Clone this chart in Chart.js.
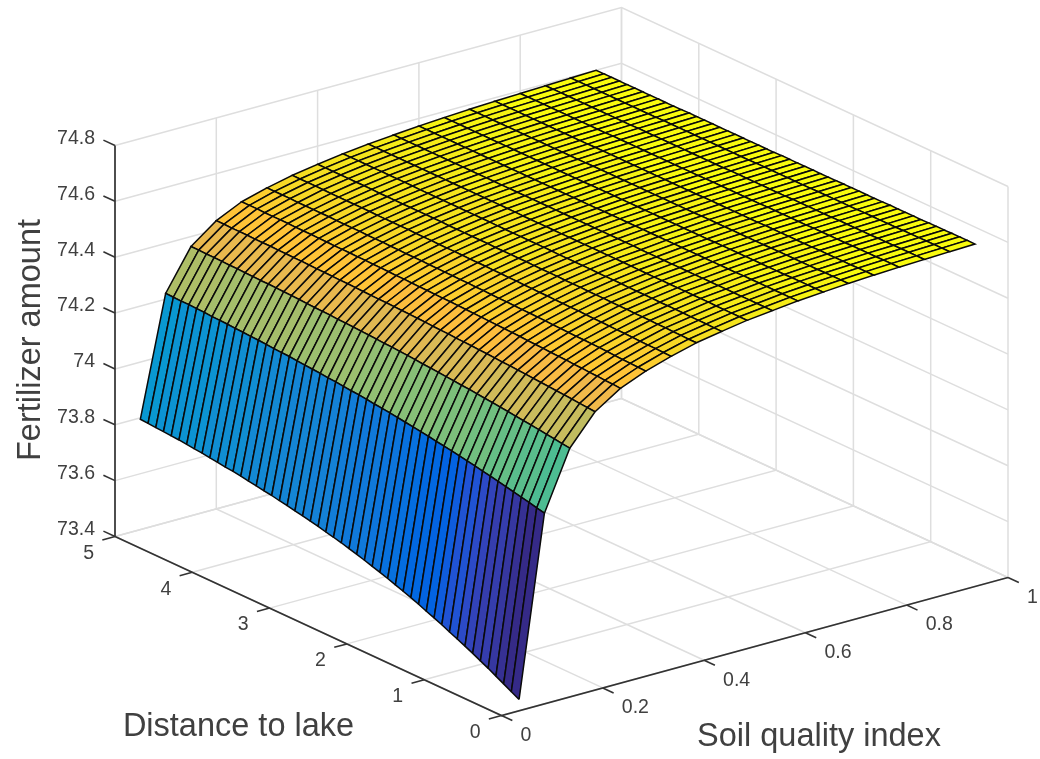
<!DOCTYPE html>
<html>
<head>
<meta charset="utf-8">
<style>
  html, body { margin: 0; padding: 0; background: #fff; }
  canvas { display: block; }
</style>
<script src="https://cdn.jsdelivr.net/npm/chart.js@4"></script>
</head>
<body>
<canvas id="surf" width="1040" height="759"></canvas>
<script>
const soilValues = [0.05,0.1,0.15,0.2,0.25,0.3,0.35,0.4,0.45,0.5,0.55,0.6,0.65,0.7,0.75,0.8,0.85,0.9,0.95];
const distValues = [0.1,0.2,0.3,0.4,0.5,0.6,0.7,0.8,0.9,1,1.1,1.2,1.3,1.4,1.5,1.6,1.7,1.8,1.9,2,2.1,2.2,2.3,2.4,2.5,2.6,2.7,2.8,2.9,3,3.1,3.2,3.3,3.4,3.5,3.6,3.7,3.8,3.9,4,4.1,4.2,4.3,4.4,4.5,4.6,4.7,4.8,4.9,5];

// one row per soil value
const fert005 = [73.420,73.435,73.450,73.465,73.480,73.494,73.508,73.521,73.534,73.546,73.559,73.571,73.582,73.594,73.605,73.615,73.625,73.635,73.644,73.653,73.662,73.670,73.678,73.686,73.693,73.699,73.706,73.712,73.718,73.723,73.729,73.734,73.740,73.744,73.749,73.753,73.758,73.762,73.765,73.769,73.772,73.776,73.779,73.782,73.785,73.787,73.789,73.791,73.793,73.795];
const fert010 = [74.062,74.068,74.075,74.081,74.087,74.093,74.099,74.105,74.110,74.116,74.121,74.126,74.131,74.136,74.140,74.145,74.149,74.153,74.157,74.161,74.165,74.168,74.171,74.175,74.178,74.180,74.183,74.186,74.188,74.191,74.193,74.195,74.197,74.200,74.201,74.203,74.205,74.207,74.208,74.210,74.211,74.213,74.214,74.215,74.217,74.218,74.219,74.219,74.220,74.221];
const fert015 = [74.270,74.274,74.278,74.281,74.285,74.289,74.292,74.295,74.299,74.302,74.305,74.308,74.311,74.314,74.316,74.319,74.321,74.324,74.326,74.328,74.331,74.333,74.335,74.337,74.338,74.340,74.342,74.343,74.345,74.346,74.347,74.349,74.350,74.351,74.352,74.354,74.355,74.356,74.357,74.358,74.358,74.359,74.360,74.361,74.361,74.362,74.363,74.363,74.364,74.364];
const fert020 = [74.376,74.378,74.380,74.383,74.385,74.387,74.389,74.391,74.393,74.395,74.397,74.399,74.400,74.402,74.404,74.405,74.407,74.408,74.409,74.411,74.412,74.413,74.415,74.416,74.417,74.418,74.419,74.420,74.420,74.421,74.422,74.423,74.424,74.424,74.425,74.426,74.426,74.427,74.428,74.428,74.429,74.429,74.430,74.430,74.430,74.431,74.431,74.431,74.432,74.432];
const fert025 = [74.435,74.437,74.438,74.440,74.441,74.443,74.444,74.446,74.447,74.448,74.450,74.451,74.452,74.454,74.455,74.456,74.457,74.458,74.459,74.460,74.461,74.462,74.463,74.463,74.464,74.465,74.465,74.466,74.467,74.467,74.468,74.469,74.469,74.470,74.470,74.471,74.471,74.471,74.472,74.472,74.473,74.473,74.473,74.474,74.474,74.474,74.474,74.475,74.475,74.475];
const fert030 = [74.472,74.473,74.474,74.475,74.476,74.478,74.479,74.480,74.481,74.481,74.482,74.483,74.484,74.485,74.486,74.487,74.487,74.488,74.489,74.489,74.490,74.491,74.491,74.492,74.492,74.493,74.493,74.494,74.494,74.495,74.495,74.495,74.496,74.496,74.497,74.497,74.497,74.498,74.498,74.498,74.498,74.499,74.499,74.499,74.499,74.499,74.500,74.500,74.500,74.500];
const fert035 = [74.500,74.501,74.502,74.502,74.503,74.504,74.505,74.505,74.506,74.507,74.507,74.508,74.509,74.509,74.510,74.510,74.511,74.511,74.512,74.512,74.513,74.513,74.514,74.514,74.515,74.515,74.515,74.516,74.516,74.516,74.516,74.517,74.517,74.517,74.518,74.518,74.518,74.518,74.518,74.519,74.519,74.519,74.519,74.519,74.519,74.520,74.520,74.520,74.520,74.520];
const fert040 = [74.524,74.524,74.525,74.525,74.526,74.526,74.527,74.527,74.527,74.528,74.528,74.528,74.529,74.529,74.529,74.530,74.530,74.530,74.531,74.531,74.531,74.531,74.532,74.532,74.532,74.532,74.532,74.533,74.533,74.533,74.533,74.533,74.533,74.534,74.534,74.534,74.534,74.534,74.534,74.534,74.534,74.534,74.535,74.535,74.535,74.535,74.535,74.535,74.535,74.535];
const fert045 = [74.540,74.540,74.541,74.541,74.541,74.542,74.542,74.542,74.542,74.543,74.543,74.543,74.543,74.544,74.544,74.544,74.544,74.545,74.545,74.545,74.545,74.545,74.546,74.546,74.546,74.546,74.546,74.546,74.546,74.546,74.547,74.547,74.547,74.547,74.547,74.547,74.547,74.547,74.547,74.547,74.548,74.548,74.548,74.548,74.548,74.548,74.548,74.548,74.548,74.548];
const fert050 = [74.555,74.555,74.555,74.555,74.555,74.556,74.556,74.556,74.556,74.556,74.556,74.556,74.556,74.556,74.556,74.557,74.557,74.557,74.557,74.557,74.557,74.557,74.557,74.557,74.557,74.557,74.557,74.557,74.557,74.557,74.558,74.558,74.558,74.558,74.558,74.558,74.558,74.558,74.558,74.558,74.558,74.558,74.558,74.558,74.558,74.558,74.558,74.558,74.558,74.558];
const fert055 = [74.565,74.565,74.565,74.565,74.565,74.565,74.565,74.565,74.565,74.565,74.565,74.565,74.565,74.565,74.565,74.565,74.565,74.565,74.566,74.566,74.566,74.566,74.566,74.566,74.566,74.566,74.566,74.566,74.566,74.566,74.566,74.566,74.566,74.566,74.566,74.566,74.566,74.566,74.566,74.566,74.566,74.566,74.566,74.566,74.566,74.566,74.566,74.566,74.566,74.566];
const fert060 = [74.575,74.575,74.575,74.575,74.575,74.575,74.575,74.575,74.574,74.574,74.574,74.574,74.574,74.574,74.574,74.574,74.574,74.574,74.574,74.574,74.574,74.574,74.574,74.574,74.574,74.574,74.573,74.573,74.573,74.573,74.573,74.573,74.573,74.573,74.573,74.573,74.573,74.573,74.573,74.573,74.573,74.573,74.573,74.573,74.573,74.573,74.573,74.573,74.573,74.573];
const fert065 = [74.582,74.582,74.582,74.582,74.582,74.581,74.581,74.581,74.581,74.581,74.581,74.581,74.581,74.581,74.581,74.580,74.580,74.580,74.580,74.580,74.580,74.580,74.580,74.580,74.580,74.580,74.580,74.580,74.580,74.580,74.580,74.579,74.579,74.579,74.579,74.579,74.579,74.579,74.579,74.579,74.579,74.579,74.579,74.579,74.579,74.579,74.579,74.579,74.579,74.579];
const fert070 = [74.588,74.588,74.588,74.588,74.587,74.587,74.587,74.587,74.587,74.587,74.587,74.586,74.586,74.586,74.586,74.586,74.586,74.586,74.586,74.586,74.585,74.585,74.585,74.585,74.585,74.585,74.585,74.585,74.585,74.585,74.585,74.585,74.585,74.585,74.584,74.584,74.584,74.584,74.584,74.584,74.584,74.584,74.584,74.584,74.584,74.584,74.584,74.584,74.584,74.584];
const fert075 = [74.593,74.593,74.593,74.592,74.592,74.592,74.592,74.592,74.591,74.591,74.591,74.591,74.591,74.591,74.591,74.590,74.590,74.590,74.590,74.590,74.590,74.590,74.590,74.589,74.589,74.589,74.589,74.589,74.589,74.589,74.589,74.589,74.589,74.589,74.589,74.589,74.589,74.588,74.588,74.588,74.588,74.588,74.588,74.588,74.588,74.588,74.588,74.588,74.588,74.588];
const fert080 = [74.597,74.597,74.597,74.596,74.596,74.596,74.596,74.595,74.595,74.595,74.595,74.595,74.594,74.594,74.594,74.594,74.594,74.594,74.593,74.593,74.593,74.593,74.593,74.593,74.593,74.593,74.592,74.592,74.592,74.592,74.592,74.592,74.592,74.592,74.592,74.592,74.592,74.592,74.591,74.591,74.591,74.591,74.591,74.591,74.591,74.591,74.591,74.591,74.591,74.591];
const fert085 = [74.600,74.600,74.600,74.600,74.599,74.599,74.599,74.598,74.598,74.598,74.598,74.598,74.597,74.597,74.597,74.597,74.597,74.597,74.596,74.596,74.596,74.596,74.596,74.596,74.596,74.596,74.595,74.595,74.595,74.595,74.595,74.595,74.595,74.595,74.595,74.595,74.595,74.595,74.594,74.594,74.594,74.594,74.594,74.594,74.594,74.594,74.594,74.594,74.594,74.594];
const fert090 = [74.603,74.603,74.603,74.603,74.602,74.602,74.602,74.601,74.601,74.601,74.601,74.601,74.600,74.600,74.600,74.600,74.600,74.600,74.599,74.599,74.599,74.599,74.599,74.599,74.599,74.599,74.598,74.598,74.598,74.598,74.598,74.598,74.598,74.598,74.598,74.598,74.598,74.598,74.597,74.597,74.597,74.597,74.597,74.597,74.597,74.597,74.597,74.597,74.597,74.597];
const fert095 = [74.606,74.606,74.606,74.606,74.605,74.605,74.605,74.604,74.604,74.604,74.604,74.604,74.603,74.603,74.603,74.603,74.603,74.603,74.602,74.602,74.602,74.602,74.602,74.602,74.602,74.602,74.601,74.601,74.601,74.601,74.601,74.601,74.601,74.601,74.601,74.601,74.601,74.601,74.600,74.600,74.600,74.600,74.600,74.600,74.600,74.600,74.600,74.600,74.600,74.600];
const fertilizer = [fert005,fert010,fert015,fert020,fert025,fert030,fert035,fert040,fert045,fert050,fert055,fert060,fert065,fert070,fert075,fert080,fert085,fert090,fert095];

const soilTicks = [0,0.2,0.4,0.6,0.8,1];
const soilTickLabels = ['0','0.2','0.4','0.6','0.8','1'];
const distTicks = [0,1,2,3,4,5];
const distTickLabels = ['0','1','2','3','4','5'];
const fertTicks = [73.4,73.6,73.8,74,74.2,74.4,74.6,74.8];
const fertTickLabels = ['73.4','73.6','73.8','74','74.2','74.4','74.6','74.8'];

// parula, 64 steps
const parula = [[.2081,.1663,.5292],[.2116,.1898,.5777],[.2123,.2138,.627],[.2081,.2386,.6771],[.1959,.2645,.7279],[.1707,.2919,.7792],[.1253,.3242,.8303],[.0591,.3598,.8683],[.0117,.3875,.882],[.006,.4086,.8828],[.0165,.4266,.8786],[.0329,.443,.872],[.0498,.4586,.8641],[.0629,.4737,.8554],[.0723,.4887,.8467],[.0779,.504,.8384],[.0793,.52,.8312],[.0749,.5375,.8263],[.0641,.557,.824],[.0488,.5772,.8228],[.0343,.5966,.8199],[.0265,.6137,.8135],[.0239,.6287,.8038],[.0231,.6418,.7913],[.0228,.6535,.7768],[.0267,.6642,.7607],[.0384,.6743,.7436],[.059,.6838,.7254],[.0843,.6928,.7062],[.1133,.7015,.6859],[.1453,.7098,.6646],[.1801,.7177,.6424],[.2178,.725,.6193],[.2586,.7317,.5954],[.3022,.7376,.5712],[.3482,.7424,.5473],[.3953,.7459,.5244],[.442,.7481,.5033],[.4871,.7491,.484],[.53,.7491,.4661],[.5709,.7485,.4494],[.6099,.7473,.4337],[.6473,.7456,.4188],[.6834,.7435,.4044],[.7184,.7411,.3905],[.7525,.7384,.3768],[.7858,.7356,.3633],[.8185,.7327,.3498],[.8507,.7299,.336],[.8824,.7274,.3217],[.9139,.7258,.3063],[.945,.7261,.2886],[.9739,.7314,.2666],[.9938,.7455,.2403],[.999,.7653,.2164],[.9955,.7861,.1967],[.988,.8066,.1794],[.9789,.8271,.1633],[.9697,.8481,.1475],[.9626,.8705,.1309],[.9589,.8949,.1132],[.9598,.9218,.0948],[.9661,.9514,.0755],[.9763,.9831,.0538]];

// view of the box: floor corner at soil 0 / dist 0, then how far each axis reaches
const view = { ox: 501.5, oy: 715.5, sx: 506.5, sy: -138, dx: -77.3, dy: -35.8, zy: -279.3, zmin: 73.4 };
function project(s, d, z) {
  return {
    x: view.ox + s * view.sx + d * view.dx,
    y: view.oy + s * view.sy + d * view.dy + (z - view.zmin) * view.zy
  };
}

const zLow = 73.42, zHigh = 74.606;
function faceColor(z) {
  const t = Math.min(63, Math.floor((z - zLow) / (zHigh - zLow) * 64));
  const c = parula[Math.max(0, t)];
  return `rgb(${Math.round(c[0]*255)},${Math.round(c[1]*255)},${Math.round(c[2]*255)})`;
}

const datasets = [];

// surface cells, nearest first because chart.js paints the first dataset last
soilValues.slice(0, -1).forEach((s, i) => {
  distValues.slice(0, -1).forEach((d, j) => {
    const s2 = soilValues[i + 1], d2 = distValues[j + 1];
    datasets.push({
      data: [
        project(s, d, fertilizer[i][j]),
        project(s2, d, fertilizer[i + 1][j]),
        project(s2, d2, fertilizer[i + 1][j + 1]),
        project(s, d2, fertilizer[i][j + 1]),
        project(s, d, fertilizer[i][j])
      ],
      showLine: true,
      fill: 'shape',
      backgroundColor: faceColor(fertilizer[i][j]),
      borderColor: '#0a0a0a',
      borderWidth: 1.5,
      pointRadius: 0,
      clip: false
    });
  });
});

function axisLine(points, color, width) {
  datasets.push({ data: points, showLine: true, fill: false, borderColor: color, borderWidth: width, pointRadius: 0, clip: false });
}

const zTop = fertTicks[fertTicks.length - 1], sEnd = 1, dEnd = 5;

// box axes and tick marks
axisLine([project(0, dEnd, view.zmin), project(0, dEnd, zTop)], '#333333', 1.7);
axisLine([project(0, dEnd, view.zmin), project(0, 0, view.zmin), project(sEnd, 0, view.zmin)], '#333333', 1.7);
soilTicks.forEach(s => axisLine([project(s, 0, view.zmin), project(s, -0.14, view.zmin)], '#333333', 1.6));
distTicks.forEach(d => axisLine([project(0, d, view.zmin), project(-0.025, d, view.zmin)], '#333333', 1.6));
fertTicks.forEach(z => axisLine([project(0, dEnd, z), project(0, dEnd + 0.15, z)], '#333333', 1.6));

// grid on floor and the two back walls
soilTicks.forEach(s => axisLine([project(s, 0, view.zmin), project(s, dEnd, view.zmin), project(s, dEnd, zTop)], '#dedede', 1.5));
distTicks.forEach(d => axisLine([project(0, d, view.zmin), project(sEnd, d, view.zmin), project(sEnd, d, zTop)], '#dedede', 1.5));
fertTicks.forEach(z => axisLine([project(0, dEnd, z), project(sEnd, dEnd, z), project(sEnd, 0, z)], '#dedede', 1.5));

const textPlugin = {
  id: 'boxText',
  afterDraw(chart) {
    const { ctx, scales } = chart;
    const px = p => ({ x: scales.x.getPixelForValue(p.x), y: scales.y.getPixelForValue(p.y) });
    ctx.save();
    ctx.fillStyle = '#404040';
    ctx.textBaseline = 'middle';
    ctx.font = '19.5px "Liberation Sans", Arial, sans-serif';

    ctx.textAlign = 'left';
    soilTicks.forEach((s, i) => {
      const p = px(project(s, 0, view.zmin));
      ctx.fillText(soilTickLabels[i], p.x + 19, p.y + 20);
    });
    ctx.textAlign = 'right';
    distTicks.forEach((d, i) => {
      const p = px(project(0, d, view.zmin));
      ctx.fillText(distTickLabels[i], p.x - 21, p.y + 17);
    });
    fertTicks.forEach((z, i) => {
      const p = px(project(0, dEnd, z));
      ctx.fillText(fertTickLabels[i], p.x - 20, p.y - 7);
    });

    ctx.textAlign = 'center';
    ctx.textBaseline = 'alphabetic';
    ctx.font = '32.5px "Liberation Sans", Arial, sans-serif';
    ctx.fillText('Distance to lake', 238.5, 736);
    ctx.fillText('Soil quality index', 819, 746);
    ctx.translate(40, 340);
    ctx.rotate(-Math.PI / 2);
    ctx.fillText('Fertilizer amount', 0, 0);
    ctx.restore();
  }
};

new Chart(document.getElementById('surf'), {
  type: 'scatter',
  data: { datasets },
  options: {
    responsive: false,
    animation: false,
    events: [],
    layout: { padding: 0 },
    plugins: { legend: { display: false }, tooltip: { enabled: false } },
    scales: {
      x: { type: 'linear', min: 0, max: 1040, display: false },
      y: { type: 'linear', min: 0, max: 759, reverse: true, display: false }
    }
  },
  plugins: [textPlugin]
});
</script>
</body>
</html>
